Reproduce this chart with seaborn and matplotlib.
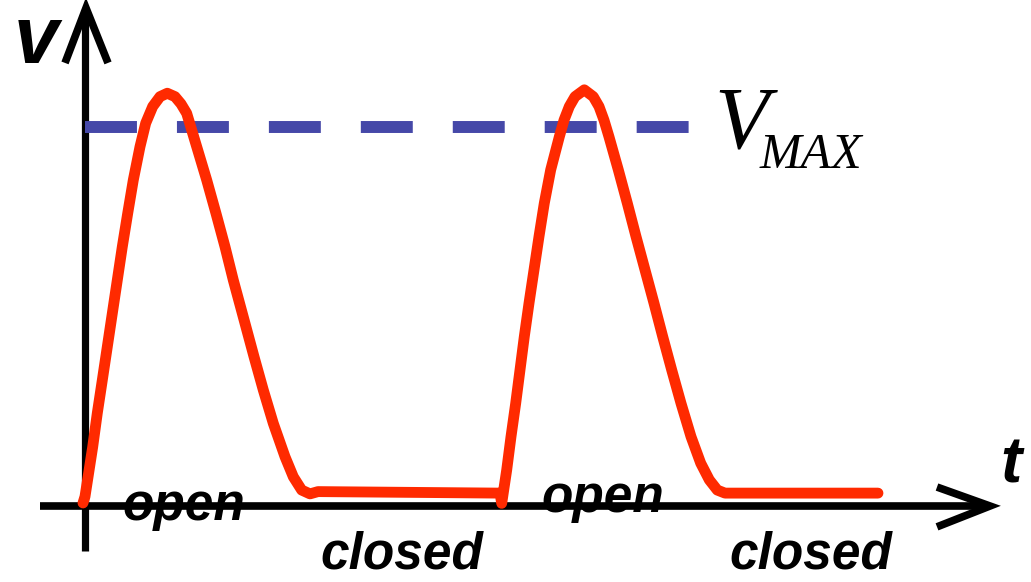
import pandas as pd
import matplotlib.pyplot as plt
import seaborn as sns

# Datos (t en unidades arbitrarias, v normalizado a V_MAX = 1)
# primer pulso + tramo cerrado
t_pulse1 = [-0.02, 0.0, 0.077, 0.123, 0.173, 0.223, 0.273, 0.323, 0.373, 0.427,
            0.483, 0.55, 0.607, 0.677, 0.75, 0.823, 0.90, 0.96, 1.017, 1.117,
            1.217, 1.31, 1.40, 1.483, 1.60, 1.69, 1.783, 1.883, 2.00, 2.083,
            2.167, 2.25, 2.33, 4.15]
v_pulse1 = [0.008, 0.025, 0.156, 0.245, 0.332, 0.420, 0.508, 0.596, 0.684, 0.772,
            0.860, 0.948, 1.010, 1.054, 1.080, 1.089, 1.080, 1.061, 1.036, 0.948,
            0.860, 0.772, 0.684, 0.596, 0.482, 0.394, 0.306, 0.218, 0.130, 0.077,
            0.042, 0.032, 0.038, 0.034]
# segundo pulso + tramo cerrado
t_pulse2 = [4.167, 4.217, 4.26, 4.307, 4.35, 4.393, 4.44, 4.49, 4.54, 4.593,
            4.657, 4.743, 4.79, 4.843, 4.90, 4.993, 5.083, 5.14, 5.19, 5.24,
            5.333, 5.423, 5.51, 5.60, 5.69, 5.777, 5.867, 5.96, 6.06, 6.157,
            6.243, 6.323, 6.40, 7.93]
v_pulse2 = [0.007, 0.095, 0.183, 0.271, 0.359, 0.447, 0.535, 0.623, 0.711, 0.799,
            0.887, 0.974, 1.018, 1.054, 1.080, 1.098, 1.080, 1.054, 1.018, 0.974,
            0.887, 0.799, 0.711, 0.623, 0.535, 0.447, 0.359, 0.271, 0.183, 0.113,
            0.069, 0.042, 0.034, 0.034]
v_max = 1.0
vmax_t = [0.0, 6.05]

state_labels = ["open", "closed", "open", "closed"]
state_t = [0.99, 3.17, 5.18, 7.26]
state_v = [-0.037, -0.166, -0.016, -0.166]

RED = "#ff2a00"
BLUE = "#4548a8"

sns.set_theme(style="white")
plt.rcParams["font.family"] = ["Liberation Sans", "DejaVu Sans"]
plt.rcParams["text.color"] = "black"
plt.rcParams["lines.scale_dashes"] = False

fig = plt.figure(figsize=(10.31, 5.82), dpi=100)
ax = fig.add_axes([0, 0, 1, 1])
ax.set_xlim(-0.85, 9.46)
ax.set_ylim(-0.2005, 1.335)
ax.axis("off")

# Ejes con flechas abiertas
ax.plot([0, 0], [-0.12, 1.31], color="black", lw=5.2, solid_capstyle="butt")
ax.plot([-0.2, 0.01, 0.23], [1.169, 1.314, 1.169], color="black", lw=5.5,
        solid_joinstyle="miter", solid_capstyle="butt")
ax.plot([-0.45, 9.0], [0, 0], color="black", lw=5.5, solid_capstyle="butt")
ax.plot([8.52, 9.05, 8.52], [0.05, 0, -0.055], color="black", lw=5.5,
        solid_joinstyle="miter", solid_capstyle="butt")

# Linea V_MAX
ax.plot(vmax_t, [v_max, v_max], color=BLUE, lw=8.6, dashes=(37.4, 28.8),
        dash_capstyle="butt")

# Curva de voltaje
df = pd.DataFrame({"t": t_pulse1 + t_pulse2, "v": v_pulse1 + v_pulse2})
sns.lineplot(data=df, x="t", y="v", sort=False, estimator=None, color=RED,
             lw=7.8, ax=ax)
ax.lines[-1].set_solid_capstyle("round")
ax.lines[-1].set_solid_joinstyle("round")

# Textos
ax.text(-0.49, 1.169, "v", fontsize=58, fontweight="bold", fontstyle="italic",
        ha="center", va="baseline", color="black")
ax.text(9.26, 0.061, "t", fontsize=46, fontweight="bold", fontstyle="italic",
        ha="center", va="baseline", color="black")
for lab, tt, vv in zip(state_labels, state_t, state_v):
    ax.text(tt, vv, lab, fontsize=37, fontweight="bold", fontstyle="italic",
            ha="center", va="baseline", color="black")
ax.text(6.29, 0.947, "V", fontsize=64, fontstyle="italic",
        family="Liberation Serif", ha="left", va="baseline", color="black")
ax.text(6.75, 0.892, "MAX", fontsize=36, fontstyle="italic",
        family="Liberation Serif", ha="left", va="baseline", color="black")

fig.savefig("out.png", dpi=100)
plt.close()
